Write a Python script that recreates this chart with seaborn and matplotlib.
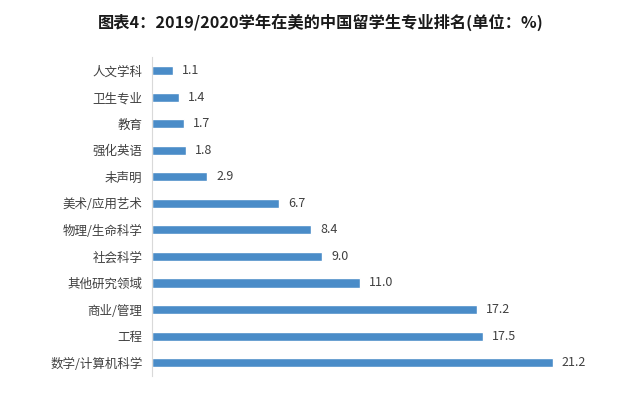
import matplotlib
matplotlib.use('Agg')
import matplotlib.pyplot as plt
import seaborn as sns
import pandas as pd

majors = ['人文学科', '卫生专业', '教育', '强化英语', '未声明', '美术/应用艺术',
          '物理/生命科学', '社会科学', '其他研究领域', '商业/管理', '工程', '数学/计算机科学']
shares = [1.1, 1.4, 1.7, 1.8, 2.9, 6.7, 8.4, 9.0, 11.0, 17.2, 17.5, 21.2]

df = pd.DataFrame({'专业': majors, '占比': shares})

sns.set_style('white')
plt.rcParams['font.family'] = ['Noto Sans CJK SC', 'DejaVu Sans']

fig = plt.figure(figsize=(6.42, 3.99), dpi=100)
ax = fig.add_axes([0.237, 0.058, 0.736, 0.798])

sns.barplot(data=df, x='占比', y='专业', color='#4a8cc8', width=0.34,
            saturation=1, ax=ax, orient='h')

for i, v in enumerate(shares):
    ax.text(v + 0.48, i, f'{v:.1f}', va='center', ha='left', fontsize=9, color='#404040')

ax.set_xlim(0, 25)
ax.set_ylim(11.5, -0.5)
ax.set_xlabel('')
ax.set_ylabel('')
ax.set_xticks([])
ax.tick_params(axis='y', length=0, labelsize=9, labelcolor='#404040', pad=7)
for side in ['top', 'right', 'bottom']:
    ax.spines[side].set_visible(False)
ax.spines['left'].set_color('#d9d9d9')
ax.spines['left'].set_linewidth(0.8)

fig.text(0.5, 0.945, '图表4：2019/2020学年在美的中国留学生专业排名(单位：%)',
         ha='center', va='center', fontsize=11.7, fontweight='bold', color='#1a1a1a')

fig.savefig('out.png', dpi=100, facecolor='white')
